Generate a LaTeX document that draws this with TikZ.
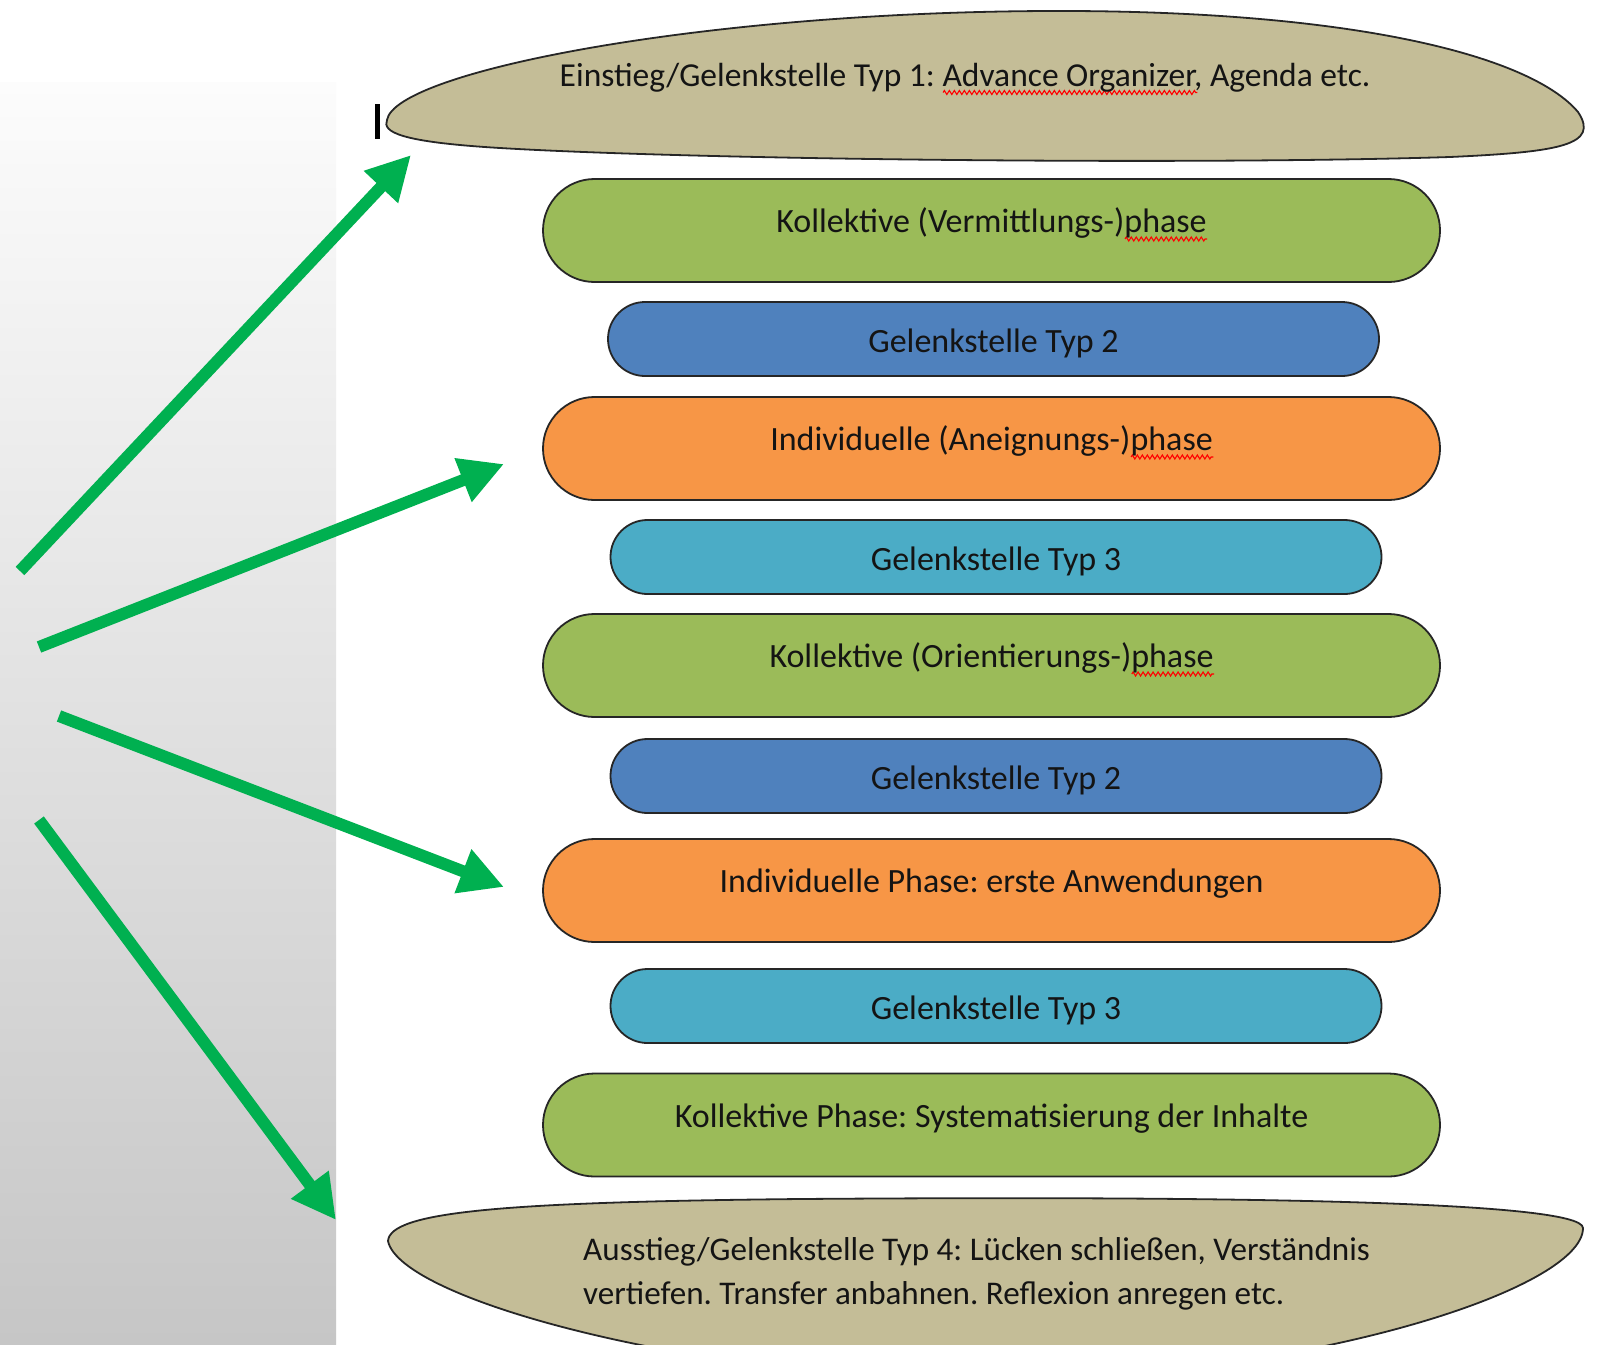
\documentclass[tikz,border=0pt]{standalone}
\usepackage{fontspec}
\setmainfont{Carlito}
\usetikzlibrary{arrows.meta,shapes.misc,decorations.pathmorphing}
\definecolor{tanfill}{HTML}{C4BD97}
\definecolor{phgreen}{HTML}{9BBB59}
\definecolor{phblue}{HTML}{4F81BD}
\definecolor{phorange}{HTML}{F79646}
\definecolor{phteal}{HTML}{4BACC6}
\definecolor{arrgreen}{HTML}{00B050}
\definecolor{panelbot}{HTML}{C6C6C6}
\definecolor{paneltop}{HTML}{FCFCFC}
\definecolor{txt}{HTML}{141414}
\frenchspacing
\newlength\spw
\newcommand\spell[1]{\settowidth\spw{#1}\rlap{\tikz[baseline=0pt]\draw[red,line width=1.1pt,decorate,decoration={zigzag,segment length=5pt,amplitude=2pt}] (0pt,-6.5pt) -- (\spw,-6.5pt);}#1}
\tikzset{
  outline/.style={draw=black!85, line width=1.8pt},
  phasebox/.style={outline, rounded rectangle, minimum width=897pt, minimum height=103pt,
    inner sep=0pt, text height=27pt, text depth=23pt, font=\fontsize{34}{40}\selectfont, text=txt},
  jointbox/.style={outline, rounded rectangle, minimum width=771pt, minimum height=74pt,
    inner sep=0pt, text height=30pt, text depth=4pt, font=\fontsize{34}{40}\selectfont, text=txt},
  capshape/.style={outline, fill=tanfill},
  captext/.style={font=\fontsize{33.5}{44}\selectfont, text=txt, inner sep=0pt},
  exittext/.style={font=\fontsize{33.1}{44}\selectfont, text=txt, inner sep=0pt},
  greenarrow/.style={draw=arrgreen, line width=12pt, -{Triangle[length=44pt,width=44pt]}}
}
\begin{document}
\begin{tikzpicture}[x=1pt,y=-1pt]
\clip (0,0) rectangle (1598,1344);
\fill[white] (0,0) rectangle (1598,1344);
% left gradient panel
\shade[top color=paneltop, bottom color=panelbot] (0,82) rectangle (336,1344);

% top cap (entry)
\draw[capshape] (387,120)
  .. controls (395,72) and (700,12) .. (1050,11)
  .. controls (1350,10) and (1530,55) .. (1578,112)
  .. controls (1600,145) and (1560,152) .. (1450,157)
  .. controls (1200,165) and (700,160) .. (500,148)
  .. controls (400,142) and (382,132) .. cycle;
\node[captext, anchor=base] (entry) at (965,86)
  {Einstieg/Gelenkstelle Typ 1: \spell{Advance Organizer}, Agenda etc.};
% text cursor
\draw[line width=5pt, black] (377,104) -- (377,139);

% phases
\node[phasebox, fill=phgreen]  (k1)  at (991.5,230.5) {Kollektive (Vermittlungs-)\spell{phase}};
\node[jointbox, fill=phblue]   (g2a) at (993.5,339)   {Gelenkstelle Typ 2};
\node[phasebox, fill=phorange] (i1)  at (991.5,448.5) {Individuelle (Aneignungs-)\spell{phase}};
\node[jointbox, fill=phteal]   (g3a) at (996,557)     {Gelenkstelle Typ 3};
\node[phasebox, fill=phgreen]  (k2)  at (991.5,665.5) {Kollektive (Orientierungs-)\spell{phase}};
\node[jointbox, fill=phblue]   (g2b) at (996,776)     {Gelenkstelle Typ 2};
\node[phasebox, fill=phorange] (i2)  at (991.5,890.5) {Individuelle Phase: erste Anwendungen};
\node[jointbox, fill=phteal]   (g3b) at (996,1006)    {Gelenkstelle Typ 3};
\node[phasebox, fill=phgreen]  (k3)  at (991.5,1125)  {Kollektive Phase: Systematisierung der Inhalte};

% bottom cap (exit)
\draw[capshape] (388,1241)
  .. controls (390,1212) and (500,1202) .. (800,1199)
  .. controls (1200,1196) and (1583,1200) .. (1583,1228)
  .. controls (1583,1290) and (1300,1380) .. (990,1380)
  .. controls (700,1380) and (400,1300) .. cycle;
\node[exittext, anchor=base west, align=left] (exit) at (583,1304)
  {Ausstieg/Gelenkstelle Typ 4: Lücken schließen, Verständnis\\vertiefen. Transfer anbahnen. Reflexion anregen etc.};

% arrows
\coordinate (s1) at (20,571);  \coordinate (t1) at (411,155);
\coordinate (s2) at (39,647);  \coordinate (t2) at (504,464);
\coordinate (s3) at (59,716);  \coordinate (t3) at (504,887);
\coordinate (s4) at (39,820);  \coordinate (t4) at (336,1220);
\draw[greenarrow] (s1) -- (t1);
\draw[greenarrow] (s2) -- (t2);
\draw[greenarrow] (s3) -- (t3);
\draw[greenarrow] (s4) -- (t4);
\end{tikzpicture}
\end{document}
